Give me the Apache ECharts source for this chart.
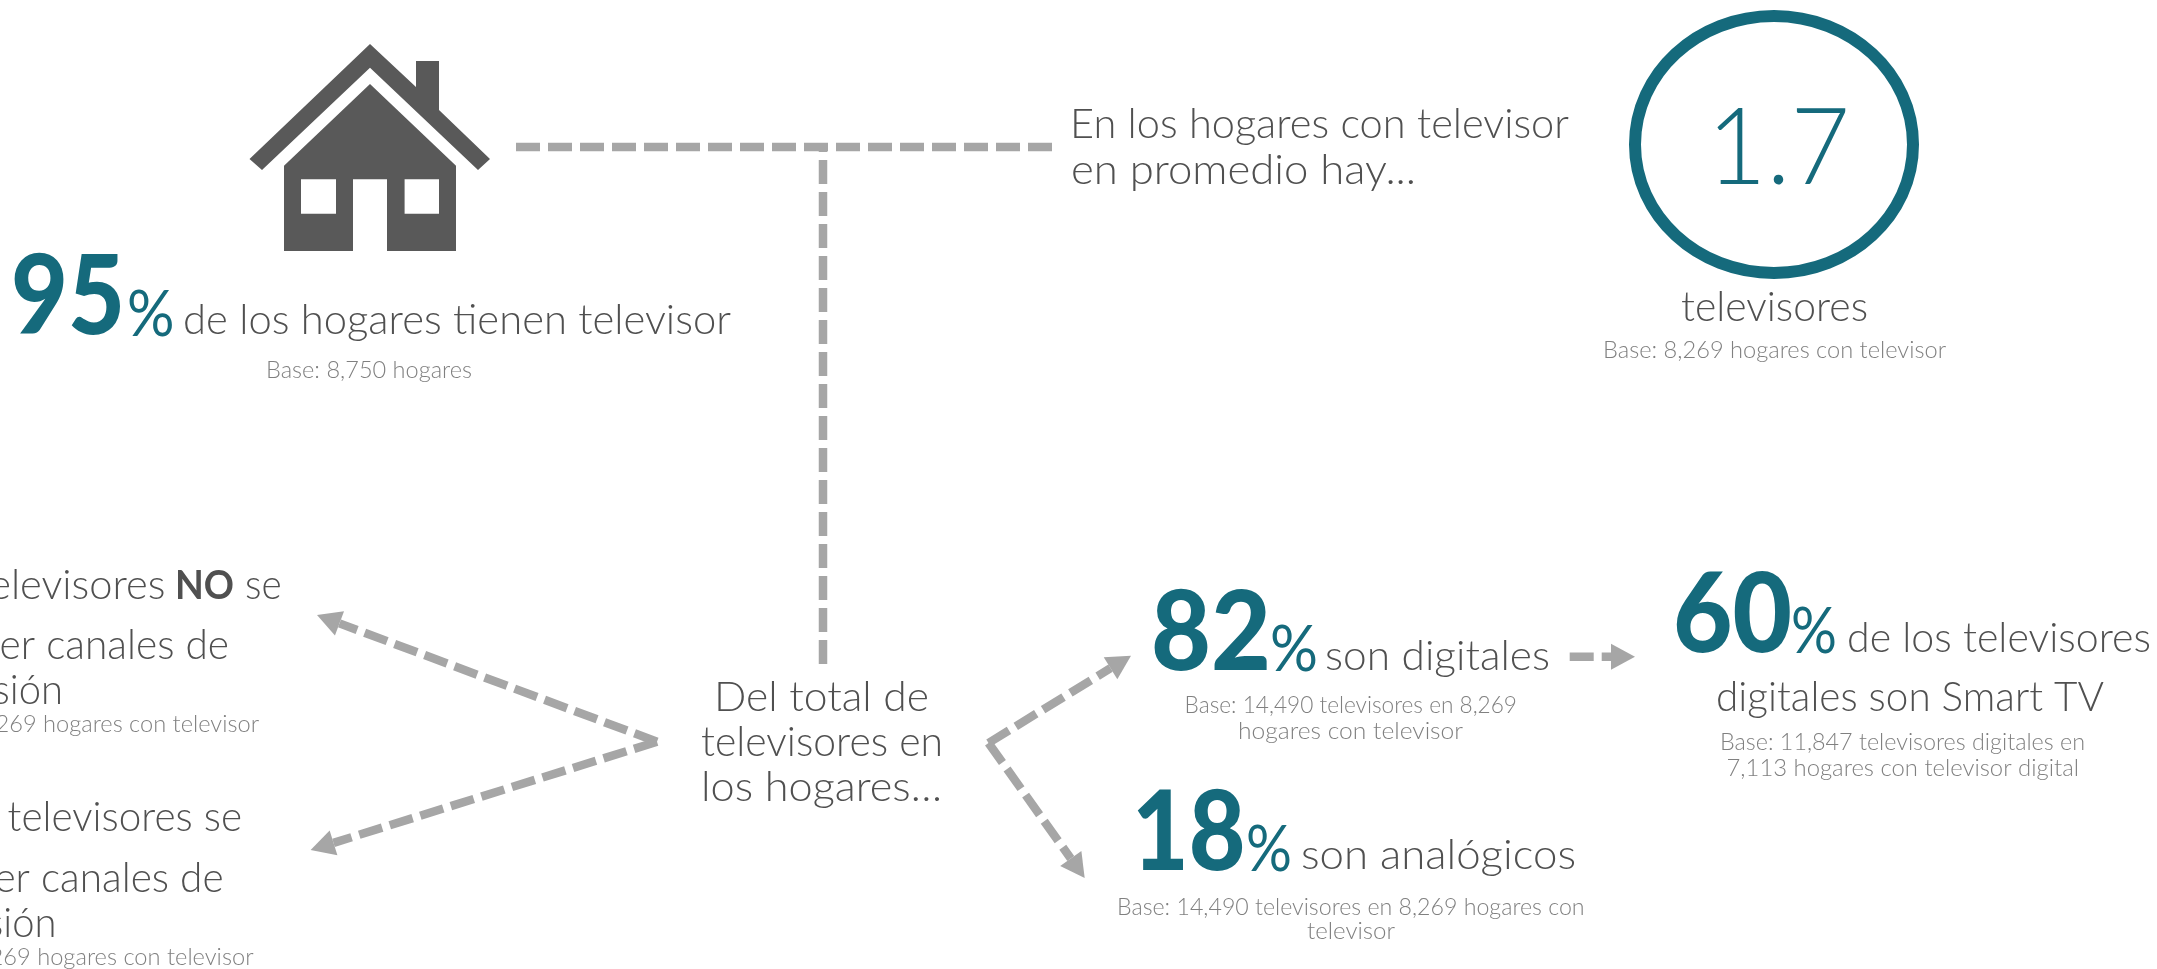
<!DOCTYPE html>
<html>
<head>
<meta charset="utf-8">
<title>Televisores en los hogares</title>
<style>
  html, body { margin: 0; padding: 0; background: #fff; }
  #chart { width: 2157px; height: 969px; }
</style>
<script src="https://cdn.jsdelivr.net/npm/echarts@6/dist/echarts.min.js"></script>
</head>
<body>
<div id="chart"></div>
<script>
// values and texts
const statValues = ["95", "82", "18", "60"];
const averageTv = "1.7";
const statLabels = ["de los hogares tienen televisor", "son digitales", "son analógicos", "de los televisores", "digitales son Smart TV"];
const introLabels = ["En los hogares con televisor", "en promedio hay...", "televisores"];
const centerLabels = ["Del total de", "televisores en", "los hogares…"];
const usageLabels = ["televisores", "NO", "se", "para ver canales de", "televisión", "televisores se"];
const baseLabels = [
  "Base: 8,750 hogares",
  "Base: 8,269 hogares con televisor",
  "Base: 14,490 televisores en 8,269",
  "hogares con televisor",
  "Base: 14,490 televisores en 8,269 hogares con",
  "televisor",
  "Base: 11,847 televisores digitales en",
  "7,113 hogares con televisor digital"
];

const TEAL = "#156a7c";
const DARK = "#505050";
const SOFT = "#808080";
const DASH = "#a6a6a6";
const FONT = "Lato";
const BODY = 41;
const SMALL = 23;

const measure = document.createElement("canvas").getContext("2d");

// text stretched to run from x0 to x1, sitting on the given baseline
function label(text, x0, x1, baseline, size, weight, color) {
  const font = weight + " " + size + "px " + FONT;
  measure.font = font;
  const w = measure.measureText(text).width;
  return {
    type: "text",
    x: x0,
    y: baseline - size * 0.31,
    scaleX: (x1 - x0) / w,
    style: { text: text, font: font, fill: color, align: "left", verticalAlign: "middle" }
  };
}

function dashed(x0, y0, x1, y1) {
  return {
    type: "line",
    shape: { x1: x0, y1: y0, x2: x1, y2: y1 },
    style: { stroke: DASH, lineWidth: 8.5, lineDash: [24, 8] }
  };
}

function arrow(x0, y0, x1, y1) {
  const len = Math.hypot(x1 - x0, y1 - y0);
  const ux = (x1 - x0) / len;
  const uy = (y1 - y0) / len;
  const bx = x1 - ux * 24;
  const by = y1 - uy * 24;
  return [
    dashed(x0, y0, bx, by),
    {
      type: "polygon",
      shape: { points: [[x1, y1], [bx - uy * 13, by + ux * 13], [bx + uy * 13, by - ux * 13]] },
      style: { fill: DASH }
    }
  ];
}

function stat(value, vx0, vx1, vBase, px0, px1, pBase) {
  return [
    label(value, vx0 - 3, vx1 + 3, vBase - 2, 110, 900, TEAL),
    label("%", px0 - 2, px1 + 2, pBase - 1, 64, 400, TEAL)
  ];
}

const houseIcon = [
  { type: "polygon", shape: { points: [[370, 44], [416, 87], [416, 61], [439, 61], [439, 110], [490, 159], [478, 170], [370, 67.7], [262, 170], [249.5, 159]] }, style: { fill: "#595959" } },
  { type: "polygon", shape: { points: [[370, 84], [456, 165.7], [456, 251], [387, 251], [387, 179.3], [353, 179.3], [353, 251], [284, 251], [284, 165.7]] }, style: { fill: "#595959" } },
  { type: "rect", shape: { x: 301, y: 179.3, width: 35, height: 34.4 }, style: { fill: "#fff" } },
  { type: "rect", shape: { x: 404.6, y: 179.3, width: 34.4, height: 34.4 }, style: { fill: "#fff" } }
];

const elements = [].concat(
  houseIcon,
  dashed(516, 147, 1053, 147),
  dashed(823, 664, 823, 147),
  arrow(657, 741.7, 317, 615),
  arrow(657, 741.7, 310.6, 850),
  arrow(988.5, 743, 1131, 655.7),
  arrow(988.5, 743, 1084.7, 878),
  arrow(1569.7, 656.7, 1635, 656.7),

  { type: "ellipse", shape: { cx: 1774, cy: 144.5, rx: 139, ry: 128.5 }, style: { fill: "none", stroke: TEAL, lineWidth: 12 } },
  label(averageTv, 1707, 1850, 183, 107, 300, TEAL),

  stat(statValues[0], 14, 122, 335, 129, 172.5, 336),
  stat(statValues[1], 1154, 1268, 670.7, 1272, 1316, 671),
  stat(statValues[2], 1135, 1242.5, 871, 1248, 1290, 871),
  stat(statValues[3], 1676, 1789, 653, 1793, 1835, 653),

  label(statLabels[0], 183, 731, 333, BODY, 300, DARK),
  label(statLabels[1], 1325, 1550, 669, BODY, 300, DARK),
  label(statLabels[2], 1301, 1576, 868, BODY, 300, DARK),
  label(statLabels[3], 1847, 2151, 651.7, BODY, 300, DARK),
  label(statLabels[4], 1716, 2104, 710.7, BODY, 300, DARK),

  label(introLabels[0], 1070, 1569, 137, BODY, 300, DARK),
  label(introLabels[1], 1071, 1416, 183, BODY, 300, DARK),
  label(introLabels[2], 1681, 1868, 320, BODY, 300, DARK),

  label(centerLabels[0], 714, 929, 710.7, BODY, 300, DARK),
  label(centerLabels[1], 701, 943, 755, BODY, 300, DARK),
  label(centerLabels[2], 701, 942, 800, BODY, 300, DARK),

  // left column runs off the edge of the picture
  label(usageLabels[0], -25, 165.5, 598, BODY, 300, DARK),
  label(usageLabels[1], 175, 234, 598, BODY, 700, DARK),
  label(usageLabels[2], 245, 281.6, 598, BODY, 300, DARK),
  label(usageLabels[3], -107, 229, 658, BODY, 300, DARK),
  label(usageLabels[4], -100, 63, 703, BODY, 300, DARK),
  label(baseLabels[1], -84, 259, 732, SMALL, 300, SOFT),

  label(usageLabels[5], 7.6, 242, 830, BODY, 300, DARK),
  label(usageLabels[3], -112, 223.6, 891.6, BODY, 300, DARK),
  label(usageLabels[4], -106.5, 56.5, 936.7, BODY, 300, DARK),
  label(baseLabels[1], -90, 253.5, 965, SMALL, 300, SOFT),

  label(baseLabels[0], 266, 472, 378, SMALL, 300, SOFT),
  label(baseLabels[1], 1603, 1946, 358, SMALL, 300, SOFT),
  label(baseLabels[2], 1184.6, 1517, 713, SMALL, 300, SOFT),
  label(baseLabels[3], 1238, 1463, 739, SMALL, 300, SOFT),
  label(baseLabels[4], 1117, 1584.6, 915, SMALL, 300, SOFT),
  label(baseLabels[5], 1307, 1395, 939, SMALL, 300, SOFT),
  label(baseLabels[6], 1720, 2085, 750, SMALL, 300, SOFT),
  label(baseLabels[7], 1726.5, 2079, 776, SMALL, 300, SOFT)
);

const myChart = echarts.init(document.getElementById("chart"));
myChart.setOption({
  animation: false,
  backgroundColor: "#fff",
  graphic: { elements: elements.map(function (el) { return Object.assign({ silent: true }, el); }) }
});
</script>
</body>
</html>
